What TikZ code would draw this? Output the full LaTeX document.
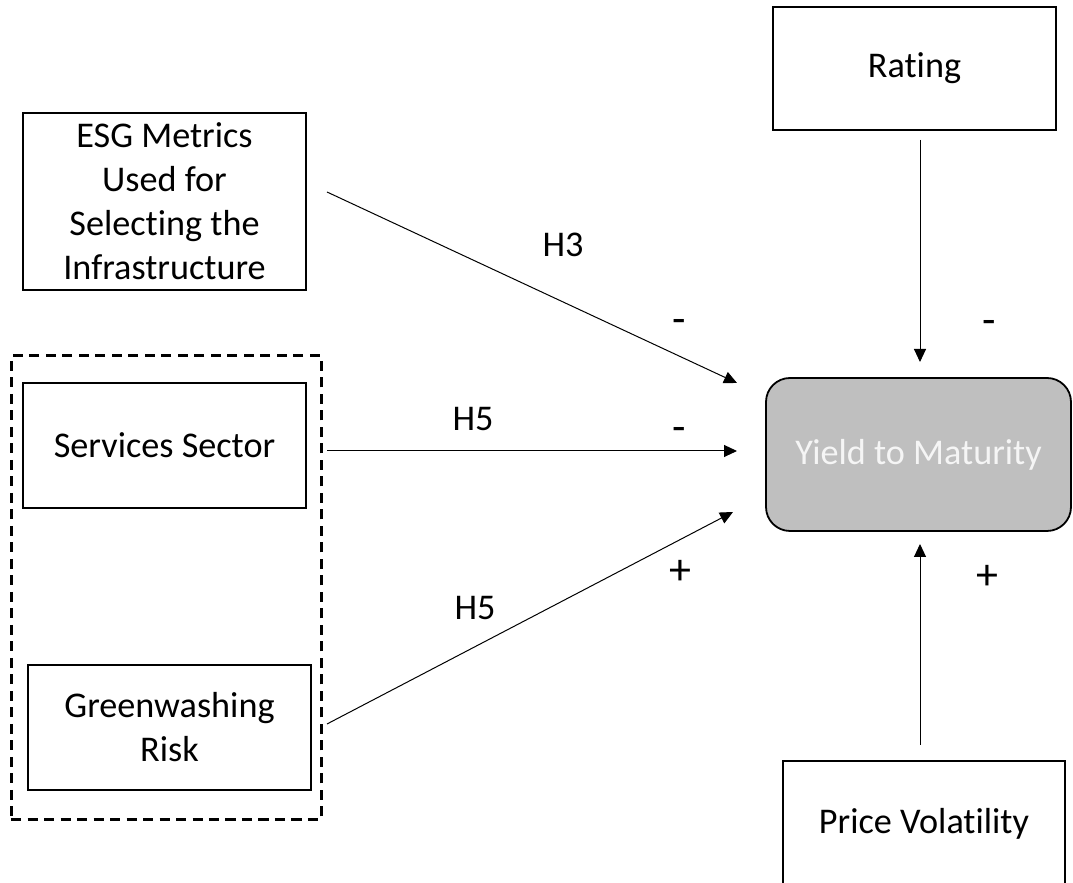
\documentclass[tikz,border=0pt]{standalone}
\usepackage{fontspec}
\setmainfont{Carlito}[Ligatures=NoCommon]
\usetikzlibrary{arrows.meta}
\definecolor{ytm-grey}{HTML}{BFBFBF}
\definecolor{ytm-text}{HTML}{F5F5F5}
\newlength{\basisu}
\setlength{\basisu}{0.2cm}

\begin{document}
\begin{tikzpicture}[
    box/.style={draw, line width=0.18\basisu, align=center, inner sep=0pt,
        font=\fontsize{20.6}{25}\selectfont},
    link/.style={-{Triangle[length=0.26cm, width=0.24cm]}, line width=0.1\basisu},
    hyp/.style={font=\fontsize{20.6}{25}\selectfont},
    sign/.style={font=\fontsize{25}{25}\selectfont}]
    \useasboundingbox (0,0) rectangle (107.3\basisu,88.3\basisu);
    \clip (0,0) rectangle (107.3\basisu,88.3\basisu);

    % outcome
    \draw (91.85\basisu,42.85\basisu) 
		node[box, fill=ytm-grey, text=ytm-text, minimum width=30.5\basisu, minimum height=15.3\basisu, rounded corners=2.4\basisu] 
			(YieldMaturity) {Yield to Maturity};

    % drivers
    \draw (91.45\basisu,81.45\basisu) 
		node[box, minimum width=28.3\basisu, minimum height=12.3\basisu] 
			(Rating) {Rating};
    \draw (92.4\basisu,5.9\basisu) 
		node[box, minimum width=28.2\basisu, minimum height=12.6\basisu] 
			(PriceVolatility) {Price Volatility};
    \draw (16.45\basisu,68.15\basisu) 
		node[box, minimum width=28.3\basisu, minimum height=17.7\basisu] 
			(ESGMetrics) {ESG Metrics\\Used for\\Selecting the\\Infrastructure};

    \draw (16.6\basisu,29.5\basisu) 
		node[draw, dash pattern=on 1.0\basisu off 0.65\basisu, line width=0.3\basisu, minimum width=31.0\basisu, minimum height=46.4\basisu] 
			(SectorGroup) {};
    \draw (16.45\basisu,43.75\basisu) 
		node[box, minimum width=28.3\basisu, minimum height=12.5\basisu] 
			(ServicesSector) {Services Sector};
    \draw (16.95\basisu,15.55\basisu) 
		node[box, minimum width=28.3\basisu, minimum height=12.5\basisu] 
			(Greenwashing) {Greenwashing\\Risk};

    % free ends of the links
    \coordinate (ESG out) at (32.7\basisu,69.1\basisu);
    \coordinate (ESG in) at (73.7\basisu,50.0\basisu);
    \coordinate (Services out) at (32.7\basisu,43.2\basisu);
    \coordinate (Services in) at (73.7\basisu,43.2\basisu);
    \coordinate (Green out) at (32.7\basisu,15.9\basisu);
    \coordinate (Green in) at (73.3\basisu,37.1\basisu);
    \coordinate (Rating out) at (92.0\basisu,74.3\basisu);
    \coordinate (Rating in) at (92.0\basisu,52.1\basisu);
    \coordinate (Price out) at (92.0\basisu,13.8\basisu);
    \coordinate (Price in) at (92.0\basisu,33.9\basisu);

	\draw[link] (ESG out) -- (ESG in);
	\draw[link] (Services out) -- (Services in);
	\draw[link] (Green out) -- (Green in);
	\draw[link] (Rating out) -- (Rating in);
	\draw[link] (Price out) -- (Price in);

	% hypotheses and signs
	\draw (56.3\basisu,63.8\basisu) node[hyp] (H3 label) {H3};
	\draw (47.3\basisu,46.4\basisu) node[hyp] (H5 top label) {H5};
	\draw (47.5\basisu,27.5\basisu) node[hyp] (H5 low label) {H5};
	\draw (67.9\basisu,55.6\basisu) node[sign] (ESG sign) {-};
	\draw (67.9\basisu,44.8\basisu) node[sign] (Services sign) {-};
	\draw (68.0\basisu,31.1\basisu) node[sign] (Green sign) {+};
	\draw (98.9\basisu,55.5\basisu) node[sign] (Rating sign) {-};
	\draw (98.7\basisu,30.6\basisu) node[sign] (Price sign) {+};
\end{tikzpicture}
\end{document}
